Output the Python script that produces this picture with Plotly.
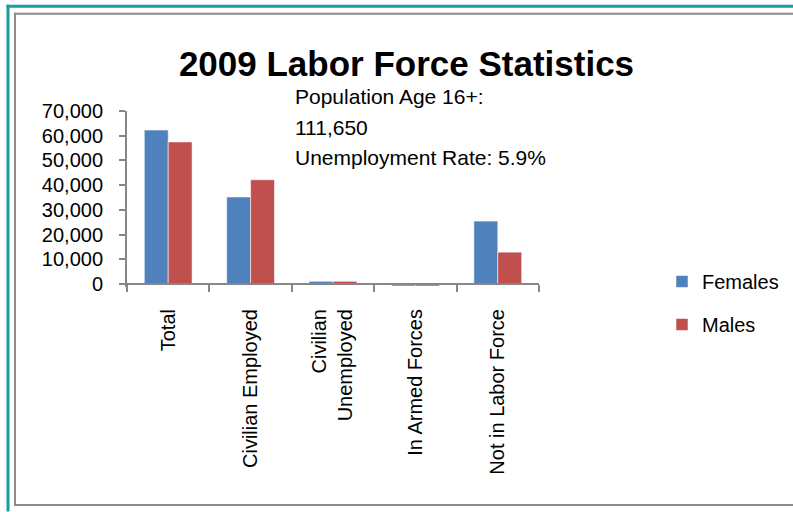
import plotly.graph_objects as go

categories = ["Total", "Civilian Employed", "Civilian<br>Unemployed", "In Armed Forces", "Not in Labor Force"]
females = [62300, 35200, 1100, -800, 25450]
males = [57500, 42200, 1100, -800, 12900]
series_names = ["Females", "Males"]
title_text = "2009 Labor Force Statistics"
note_lines = ["Population Age 16+:", "111,650", "Unemployment Rate: 5.9%"]
y_ticks = [0, 10000, 20000, 30000, 40000, 50000, 60000, 70000]

W, H = 793, 512
L, R, T = 127, 539, 111
YMIN, YMAX = -1200, 70000
zero_px = 284.3
B = zero_px + (0 - YMIN) * (zero_px - T) / YMAX

def px(x):
    return (x - L) / (R - L)

def py(y):
    return (B - y) / (B - T)

FONT = "Liberation Sans, Arial, sans-serif"
blue = "#4F81BD"
red = "#C0504D"

fig = go.Figure()
fig.add_trace(go.Bar(x=categories, y=females, name=series_names[0], marker=dict(color=blue, line=dict(color="rgba(255,255,255,0.55)", width=1)), legendgroup="f"))
fig.add_trace(go.Bar(x=categories, y=males, name=series_names[1], marker=dict(color=red, line=dict(color="rgba(255,255,255,0.55)", width=1)), legendgroup="m"))

fig.update_layout(
    width=W, height=H,
    margin=dict(l=L, r=W - R, t=T, b=H - B, pad=0, autoexpand=False),
    paper_bgcolor="white", plot_bgcolor="white",
    barmode="group", bargap=0.42, bargroupgap=0,
    font=dict(family=FONT, color="black", size=20),
    title=dict(text="<b>" + title_text + "</b>", x=406.5 / W, xref="container", xanchor="center",
               y=1 - 64 / H, yref="container", yanchor="middle",
               font=dict(family=FONT, size=35, color="black")),
    showlegend=True,
    legend=dict(x=662 / W, y=1 - 262 / H, xref="container", yref="container", xanchor="left", yanchor="top",
                font=dict(size=20, family=FONT), tracegroupgap=14, bgcolor="rgba(0,0,0,0)", itemwidth=30),
)

fig.update_yaxes(range=[YMIN, YMAX], tickvals=y_ticks, tickformat=",d", showgrid=False, zeroline=False,
                 showline=True, linecolor="#868686", linewidth=2, ticks="outside", ticklen=6,
                 tickcolor="#868686", tickwidth=2, ticklabelstandoff=12, automargin=False,
                 tickfont=dict(size=20, family=FONT, color="black"))
fig.update_xaxes(anchor="free", position=py(zero_px), showgrid=False, zeroline=False,
                 showline=True, linecolor="#868686", linewidth=2, ticks="outside", ticklen=7,
                 tickcolor="#868686", tickwidth=2, tickson="boundaries", tickangle=-90, automargin=False,
                 ticklabelstandoff=16, tickfont=dict(size=20, family=FONT, color="black"))

for i, (line, yc) in enumerate(zip(note_lines, [96, 128, 158])):
    fig.add_annotation(text=line, xref="paper", yref="paper", x=px(293), y=py(yc), xanchor="left",
                       yanchor="middle", showarrow=False, font=dict(size=21, family=FONT, color="black"))

# chart borders (left, top, bottom edges only; the right edge lies outside the picture)
teal = dict(color="#17A09A", width=3)
gray = dict(color="#8C8C8C", width=2)
border_lines = [
    (8, 4.5, 8, 512, teal), (6.5, 6, 793, 6, teal),
    (15, 12.5, 15, 506.5, gray), (14, 13.5, 793, 13.5, gray), (14, 505.5, 793, 505.5, gray),
]
for x0, y0, x1, y1, ln in border_lines:
    fig.add_shape(type="line", xref="paper", yref="paper", x0=px(x0), x1=px(x1), y0=py(y0), y1=py(y1),
                  line=ln, layer="below")

fig.write_html("out.html", config={"displayModeBar": False},
               post_script="document.body.style.margin='0';document.body.style.overflow='hidden';"
                           "document.documentElement.style.overflow='hidden';")
